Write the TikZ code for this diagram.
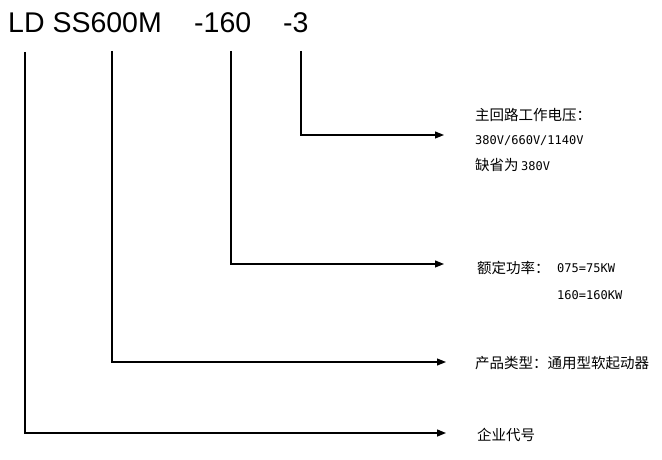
\documentclass[tikz,border=0pt]{standalone}
\usepackage{fontspec}
\setmainfont{Liberation Sans}
\newfontfamily\cjk{Noto Sans CJK SC}
\newfontfamily\monof{DejaVu Sans Mono}
\usetikzlibrary{arrows.meta}
\tikzset{
  title/.style={anchor=base west, inner sep=0pt, font=\fontsize{28.5bp}{32bp}\selectfont},
  cn/.style={anchor=west, inner sep=0pt, font=\cjk\fontsize{14.5bp}{16bp}\selectfont},
  mn/.style={anchor=west, inner sep=0pt, font=\monof\fontsize{12bp}{14bp}\selectfont},
  lead/.style={line width=1.1bp, -{Triangle[length=9bp,width=7bp]}},
}
\begin{document}
\begin{tikzpicture}[x=1bp,y=-1bp]
\useasboundingbox (0,0) rectangle (662,460);
% title
\node[title] (ld) at (8,33) {LD SS600M};
\node[title] (n160) at (194,33) {-160};
\node[title] (n3) at (283,33) {-3};
% right texts
\node[cn] (v1) at (475,115) {主回路工作电压：};
\node[mn] (v2) at (475,141) {380V/660V/1140V};
\node[cn] (v3) at (475,165) {缺省为\,{\monof\fontsize{12bp}{14bp}\selectfont 380V}};
\node[cn] (p1) at (477,268) {额定功率：};
\node[mn] (p2) at (557,268) {075=75KW};
\node[mn] (p3) at (557,295) {160=160KW};
\node[cn] (t1) at (475,363) {产品类型：通用型软起动器};
\node[cn] (c1) at (477,435) {企业代号};
% connector points
\coordinate (s1) at (25,52);
\coordinate (s2) at (112,51);
\coordinate (s3) at (231,51);
\coordinate (s4) at (301,51);
\coordinate (e1) at (446,433);
\coordinate (e2) at (446,362);
\coordinate (e3) at (444,264);
\coordinate (e4) at (444,135);
\draw[lead, line width=1.4bp] (s1) |- (e1);
\draw[lead] (s2) |- (e2);
\draw[lead] (s3) |- (e3);
\draw[lead] (s4) |- (e4);
\end{tikzpicture}
\end{document}
